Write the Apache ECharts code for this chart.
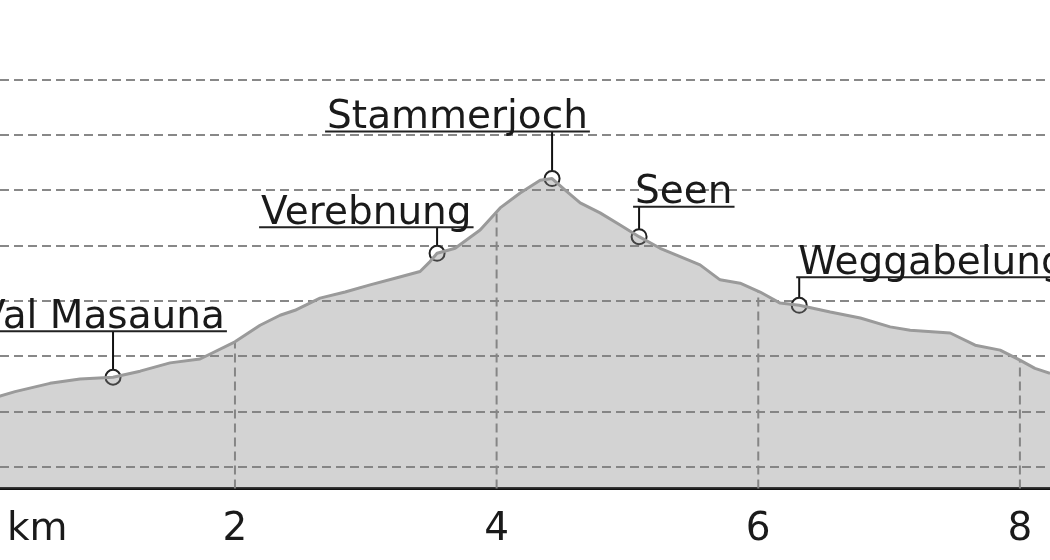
<!DOCTYPE html>
<html>
<head>
<meta charset="utf-8">
<script src="https://cdn.jsdelivr.net/npm/echarts@6/dist/echarts.min.js"></script>
<style>
  html, body { margin: 0; padding: 0; background: #fff; }
  #chart { width: 1050px; height: 560px; }
</style>
</head>
<body>
<div id="chart"></div>
<script>
// elevation profile (km, m)
const profileKm = [0, 0.204, 0.319, 0.586, 0.816, 1.068, 1.275, 1.504, 1.733, 2.0, 2.192, 2.345, 2.459,
  2.65, 2.842, 3.033, 3.224, 3.415, 3.491, 3.545, 3.683, 3.874, 4.027, 4.18, 4.333, 4.424, 4.524,
  4.639, 4.791, 4.944, 5.089, 5.25, 5.403, 5.555, 5.708, 5.861, 6.014, 6.167, 6.313, 6.55, 6.78,
  7.008, 7.161, 7.467, 7.658, 7.849, 8.0, 8.115, 8.23]
const profileElev = [1814, 1828, 1836, 1851, 1859, 1862, 1873, 1888, 1895, 1926, 1956, 1974, 1983,
  2005, 2016, 2029, 2041, 2053, 2071, 2086, 2095, 2128, 2168, 2195, 2218, 2221, 2200,
  2177, 2159, 2137, 2116, 2095, 2080, 2065, 2038, 2032, 2016, 1996, 1992, 1980, 1969,
  1953, 1947, 1942, 1920, 1911, 1893, 1878, 1869]

// waypoints
const waypointNames = ['Val Masauna', 'Verebnung', 'Stammerjoch', 'Seen', 'Weggabelung']
const waypointKm = [1.068, 3.545, 4.424, 5.089, 6.313]
const waypointElev = [1862, 2086, 2221, 2116, 1992]

// axes
const xTicks = [2, 4, 6, 8]
const xMin = 0.204
const xMax = 8.23
const yMin = 1661
const yMax = 2400

// label placement in px relative to the waypoint marker
const labelDx = [-134, -176, -225, -4, -1]
const labelDy = [-46, -26, -47, -30, -28]

const FONT = '39px "DejaVu Sans"'
const textColor = '#1a1a1a'

const measureCtx = document.createElement('canvas').getContext('2d')
measureCtx.font = FONT
const textWidth = (t) => measureCtx.measureText(t).width

// linear interpolation of the profile
const elevAt = (km) => {
  for (let i = 1; i < profileKm.length; i++) {
    if (km <= profileKm[i]) {
      const t = (km - profileKm[i - 1]) / (profileKm[i] - profileKm[i - 1])
      return profileElev[i - 1] + t * (profileElev[i] - profileElev[i - 1])
    }
  }
  return profileElev[profileElev.length - 1]
}

const dash = [9, 5]
const gridColor = '#888'

const myChart = echarts.init(document.getElementById('chart'))

const option = {
  animation: false,
  grid: { left: 0, right: 0, top: 79.5, bottom: 71.5 },
  graphic: [
    {
      type: 'text',
      left: 7,
      top: 510,
      style: { text: 'km', font: FONT, fill: textColor }
    }
  ],
  xAxis: {
    type: 'value',
    min: xMin,
    max: xMax,
    minInterval: 2,
    maxInterval: 2,
    axisLine: { lineStyle: { color: '#111', width: 3 } },
    axisTick: { show: false },
    splitLine: { show: false },
    axisLabel: {
      margin: 22,
      fontSize: 39,
      fontFamily: 'DejaVu Sans',
      color: textColor,
      showMinLabel: false,
      showMaxLabel: false,
      formatter: (v) => (xTicks.includes(v) ? String(v) : '')
    }
  },
  yAxis: {
    type: 'value',
    min: yMin,
    max: yMax,
    splitNumber: 7,
    minInterval: 100,
    maxInterval: 100,
    axisLine: { show: false },
    axisTick: { show: false },
    axisLabel: { show: false },
    splitLine: {
      show: true,
      showMinLine: false,
      lineStyle: { color: gridColor, width: 2, type: dash }
    }
  },
  series: [
    {
      // vertical grid lines, only below the profile
      type: 'custom',
      data: xTicks,
      silent: true,
      renderItem: (params, api) => {
        const km = api.value(0)
        const p0 = api.coord([km, yMin])
        const p1 = api.coord([km, elevAt(km)])
        return {
          type: 'line',
          shape: { x1: p0[0], y1: p0[1], x2: p1[0], y2: p1[1] },
          style: { stroke: gridColor, lineWidth: 2, lineDash: dash }
        }
      }
    },
    {
      type: 'line',
      data: profileKm.map((km, i) => [km, profileElev[i]]),
      symbol: 'none',
      silent: true,
      lineStyle: { color: '#9a9a9a', width: 3 },
      areaStyle: { color: 'rgba(128,128,128,0.35)', opacity: 1, origin: 'start' }
    },
    {
      type: 'custom',
      silent: true,
      data: waypointNames.map((n, i) => [waypointKm[i], waypointElev[i], i]),
      renderItem: (params, api) => {
        const p = api.coord([api.value(0), api.value(1)])
        const i = api.value(2)
        const name = waypointNames[i]
        const w = textWidth(name)
        const left = p[0] + labelDx[i]
        const lineY = p[1] + labelDy[i]
        return {
          type: 'group',
          children: [
            {
              type: 'line',
              shape: { x1: p[0], y1: lineY, x2: p[0], y2: p[1] },
              style: { stroke: '#111', lineWidth: 2 }
            },
            {
              type: 'line',
              shape: { x1: left - 2, y1: lineY, x2: left + w + 2, y2: lineY },
              style: { stroke: '#222', lineWidth: 2 }
            },
            {
              type: 'text',
              style: {
                x: left,
                y: lineY + 6,
                text: name,
                font: FONT,
                fill: textColor,
                align: 'left',
                verticalAlign: 'bottom'
              }
            },
            {
              type: 'circle',
              shape: { cx: p[0], cy: p[1], r: 7.5 },
              style: { fill: '#fff', stroke: '#222', lineWidth: 2 }
            }
          ]
        }
      }
    }
  ]
}

option && myChart.setOption(option)
</script>
</body>
</html>
